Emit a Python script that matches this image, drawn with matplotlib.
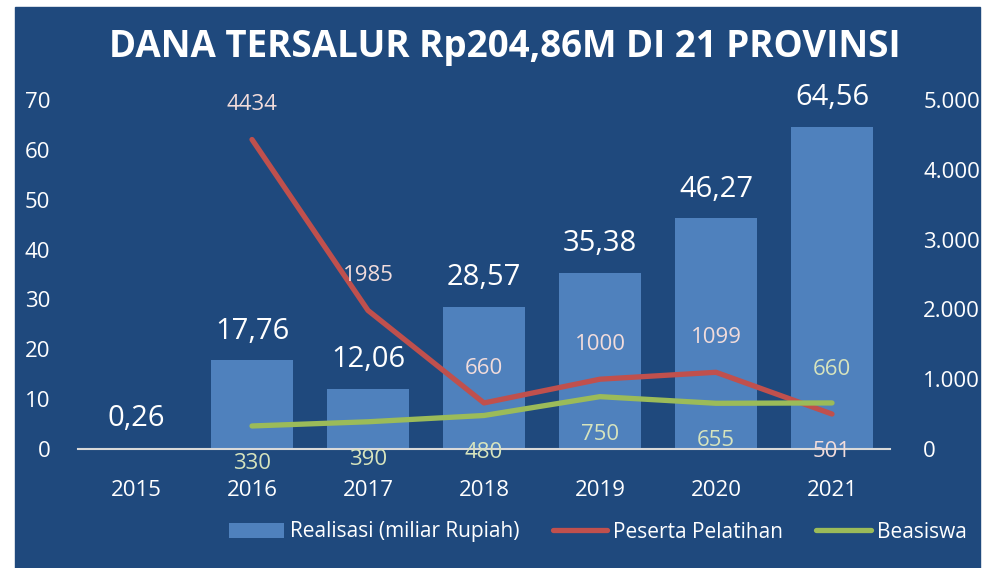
import matplotlib.pyplot as plt
import matplotlib.patches as mpatches
import numpy as np

years = ['2015', '2016', '2017', '2018', '2019', '2020', '2021']
realisasi = [0.26, 17.76, 12.06, 28.57, 35.38, 46.27, 64.56]
peserta = [4434, 1985, 660, 1000, 1099, 501]      # 2016-2021
beasiswa = [330, 390, 480, 750, 655, 660]         # 2016-2021

bg = '#1F497D'
bar_col = '#4F81BD'
red = '#C0504D'
green = '#9BBB59'
plt.rcParams['font.family'] = ['Open Sans', 'DejaVu Sans']

fig = plt.figure(figsize=(9.9, 5.68), dpi=100)
fig.patch.set_facecolor('white')
# blue panel behind the chart
fig.patches.append(mpatches.Rectangle((15 / 990, 0), 965 / 990, 1 - 7 / 568,
                                      transform=fig.transFigure, color=bg, zorder=-10))

ax = fig.add_axes([78 / 990, 1 - 449 / 568, 812 / 990, 349 / 568])
ax.set_facecolor('none')
x = np.arange(len(years))
lx = x[1:]

ax.bar(x, realisasi, width=0.7, color=bar_col, label='Realisasi (miliar Rupiah)', zorder=2)
ax.set_xlim(-0.5, len(years) - 0.5)
ax.set_ylim(0, 70)
ax.set_yticks(range(0, 71, 10))
ax.set_xticks(x)
ax.set_xticklabels(years)
for s in ['top', 'right', 'left']:
    ax.spines[s].set_visible(False)
ax.spines['bottom'].set_color('#D9D9D9')
ax.spines['bottom'].set_linewidth(1.5)
ax.spines['bottom'].set_zorder(5)
ax.tick_params(length=0, colors='white', labelsize=16)
ax.tick_params(axis='y', pad=20)
ax.tick_params(axis='x', pad=22)

for xi, v in zip(x, realisasi):
    ax.annotate(f'{v:.2f}'.replace('.', ','), (xi, v), xytext=(0, 21),
                textcoords='offset points', ha='center', va='center',
                color='white', fontsize=21)

ax2 = ax.twinx()
ax2.set_ylim(0, 5000)
ax2.set_yticks(range(0, 5001, 1000))
ax2.set_yticklabels([f'{v:,}'.replace(',', '.') for v in range(0, 5001, 1000)])
for s in ax2.spines.values():
    s.set_visible(False)
ax2.tick_params(length=0, colors='white', labelsize=16, pad=24)

ax2.plot(lx, peserta, color=red, lw=3.8, solid_capstyle='round', label='Peserta Pelatihan', zorder=3)
ax2.plot(lx, beasiswa, color=green, lw=3.8, solid_capstyle='round', label='Beasiswa', zorder=3)

for i, (xi, v) in enumerate(zip(lx, peserta)):
    off = -27 if i == len(peserta) - 1 else 25
    ax2.annotate(str(v), (xi, v), xytext=(0, off), textcoords='offset points',
                 ha='center', va='center', color='#F2DCDB', fontsize=16)
for i, (xi, v) in enumerate(zip(lx, beasiswa)):
    off = 24 if i == len(beasiswa) - 1 else -27
    ax2.annotate(str(v), (xi, v), xytext=(0, off), textcoords='offset points',
                 ha='center', va='center', color='#D7E4BD', fontsize=16)

h1, l1 = ax.get_legend_handles_labels()
h2, l2 = ax2.get_legend_handles_labels()
fig.legend(h1 + h2, l1 + l2, loc='center', bbox_to_anchor=(598 / 990, 1 - 532 / 568),
           ncol=3, frameon=False, fontsize=15, labelcolor='white',
           handlelength=2.6, handletextpad=0.3, columnspacing=1.6)

fig.text(505 / 990, 1 - 47 / 568, 'DANA TERSALUR Rp204,86M DI 21 PROVINSI',
         ha='center', va='center', color='white', fontsize=26.5, fontweight='bold')

fig.savefig('out.png', dpi=100)
